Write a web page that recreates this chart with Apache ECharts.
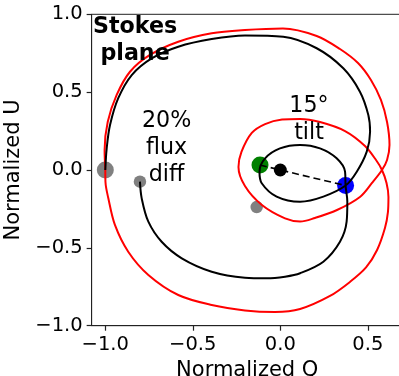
<!DOCTYPE html>
<html>
<head>
<meta charset="utf-8">
<script src="https://cdn.jsdelivr.net/npm/echarts@6/dist/echarts.min.js"></script>
<style>
  html, body { margin: 0; padding: 0; background: #fff; }
  #chart { width: 399px; height: 376px; }
</style>
</head>
<body>
<div id="chart"></div>
<script>
// Red track: outer loop from (-1, 0), through the self-crossing, round the inner loop and back
const redQ = [
  -1.000, -1.004, -0.986, -0.935, -0.859, -0.745, -0.583, -0.392, -0.202, 0.015,
  0.208, 0.341, 0.444, 0.518, 0.575, 0.610, 0.624, 0.610, 0.581,
  0.524, 0.455, 0.324, 0.198, 0.113, 0.027, -0.105, -0.202, -0.239, -0.222,
  -0.163, -0.087, 0.010, 0.113, 0.227, 0.370, 0.484, 0.547, 0.581,
  0.607, 0.618, 0.615, 0.598, 0.553, 0.490, 0.398, 0.284, 0.113, -0.030,
  -0.202, -0.392, -0.583, -0.754, -0.869, -0.945, -0.983, -0.999, -1.000
];
const redU = [
  0.000, 0.128, 0.310, 0.482, 0.631, 0.739, 0.824, 0.878, 0.899, 0.909,
  0.861, 0.777, 0.687, 0.578, 0.450, 0.308, 0.161, 0.064, 0.000,
  -0.083, -0.173, -0.257, -0.308, -0.331, -0.311, -0.225, -0.103, 0.019, 0.116,
  0.238, 0.295, 0.324, 0.328, 0.308, 0.250, 0.154, 0.064, 0.000,
  -0.083, -0.173, -0.270, -0.373, -0.514, -0.626, -0.719, -0.809, -0.893, -0.912,
  -0.902, -0.867, -0.803, -0.674, -0.525, -0.353, -0.180, -0.077, 0.000
];

// Black track: starts at (-1, 0), loops through the inner ellipse, ends short of the start
const blackQ = [
  -1.000, -0.992, -0.973, -0.926, -0.849, -0.735, -0.583, -0.392, -0.202, 0.017,
  0.208, 0.360, 0.455, 0.503, 0.513, 0.494, 0.437, 0.373,
  0.246, 0.113, -0.021, -0.106, -0.119, -0.087, -0.002, 0.113, 0.227, 0.322, 0.370, 0.373,
  0.383, 0.379, 0.341, 0.246, 0.113, 0.027, -0.078, -0.202, -0.392, -0.563, -0.678,
  -0.754, -0.792, -0.802
];
const blackU = [
  0.000, 0.139, 0.289, 0.461, 0.610, 0.717, 0.792, 0.841, 0.864, 0.856,
  0.782, 0.653, 0.503, 0.353, 0.246, 0.118, -0.011, -0.100,
  -0.171, -0.204, -0.171, -0.085, -0.011, 0.075, 0.139, 0.161, 0.139, 0.075, -0.011, -0.100,
  -0.204, -0.332, -0.461, -0.589, -0.663, -0.685, -0.696, -0.692, -0.653, -0.567, -0.461,
  -0.332, -0.182, -0.075
];

// Marked points in the (Q, U) plane
const startPoint = [-1.000, 0.000];
const endPoint = [-0.802, -0.075];
const redInnerPoint = [-0.135, -0.238];
const greenPoint = [-0.116, 0.032];
const originPoint = [0.000, 0.000];
const bluePoint = [0.373, -0.100];

// Axis ticks and ranges
const qTicks = [-1.0, -0.5, 0.0, 0.5];
const uTicks = [-1.0, -0.5, 0.0, 0.5, 1.0];
const qRange = [-1.078, 0.7];
const uRange = [-1.0, 1.0];

// Annotation texts and their anchors (data coordinates)
const notes = [
  { text: 'Stokes\nplane', at: [-0.83, 0.83], weight: 'bold' },
  { text: '20%\nflux\ndiff', at: [-0.65, 0.14], weight: 'normal' },
  { text: '15\u00b0\ntilt', at: [0.164, 0.323], weight: 'normal' }
];

const zip = (a, b) => a.map((v, i) => [v, b[i]]);
const fmt = v => (v < 0 ? '\u2212' : '') + Math.abs(v).toFixed(1);
const FONT = 'DejaVu Sans';
const SPINE = '#222';

function dot(point, color, size) {
  return {
    type: 'scatter', data: [point], symbol: 'circle', symbolSize: size,
    itemStyle: { color: color, opacity: 1 }, z: 1, silent: true
  };
}

const axisLineStyle = { show: true, onZero: false, lineStyle: { color: SPINE, width: 1 } };
const tickStyle = { show: true, length: 5, lineStyle: { color: SPINE, width: 1.2 } };
const labelStyle = { fontFamily: FONT, fontSize: 19.5, color: '#000', margin: 9, formatter: fmt };

const chart = echarts.init(document.getElementById('chart'), null, { renderer: 'canvas' });
chart.setOption({
  animation: false,
  backgroundColor: '#fff',
  grid: {
    left: 91.65, right: -3.8, top: 14.3, bottom: 50.3,
    show: true, borderColor: SPINE, borderWidth: 1, containLabel: false, outerBoundsMode: 'none'
  },
  xAxis: {
    type: 'value', min: qRange[0], max: qRange[1],
    name: 'Normalized Q', nameLocation: 'middle', nameGap: 20,
    nameTextStyle: { fontFamily: FONT, fontSize: 21, color: '#000' },
    axisLine: axisLineStyle,
    splitLine: { show: false },
    axisTick: Object.assign({ customValues: qTicks }, tickStyle),
    axisLabel: Object.assign({ customValues: qTicks }, labelStyle)
  },
  yAxis: {
    type: 'value', min: uRange[0], max: uRange[1],
    name: 'Normalized U', nameLocation: 'middle', nameGap: 54,
    nameTextStyle: { fontFamily: FONT, fontSize: 21, color: '#000' },
    axisLine: axisLineStyle,
    splitLine: { show: false },
    axisTick: Object.assign({ customValues: uTicks }, tickStyle),
    axisLabel: Object.assign({ customValues: uTicks }, labelStyle)
  },
  series: [
    dot(startPoint, '#808080', 17),
    dot(endPoint, '#808080', 12.5),
    dot(redInnerPoint, '#808080', 12.5),
    dot(greenPoint, '#008000', 17),
    dot(originPoint, '#000000', 13),
    dot(bluePoint, '#0000ff', 17),
    {
      type: 'line', data: zip(redQ, redU), symbol: 'none', smooth: 0.33, z: 3, silent: true,
      lineStyle: { color: '#ff0000', width: 2 }
    },
    {
      type: 'line', data: zip(blackQ, blackU), symbol: 'none', smooth: 0.33, z: 3, silent: true,
      lineStyle: { color: '#000000', width: 2 }
    },
    {
      type: 'line', data: [greenPoint, originPoint, bluePoint], symbol: 'none', z: 3, silent: true,
      lineStyle: { color: '#000000', width: 1.6, type: [7, 4] }
    }
  ]
});

// Annotations placed through the grid's coordinate system
const toPx = v => chart.convertToPixel({ gridIndex: 0 }, v);
chart.setOption({
  graphic: notes.map(n => {
    const p = toPx(n.at);
    return {
      type: 'text', x: p[0], y: p[1], z: 10, silent: true,
      style: {
        text: n.text, fill: '#000',
        font: n.weight + ' 22.2px "DejaVu Sans"',
        lineHeight: 26.7, align: 'center', verticalAlign: 'middle'
      }
    };
  })
});
</script>
</body>
</html>
